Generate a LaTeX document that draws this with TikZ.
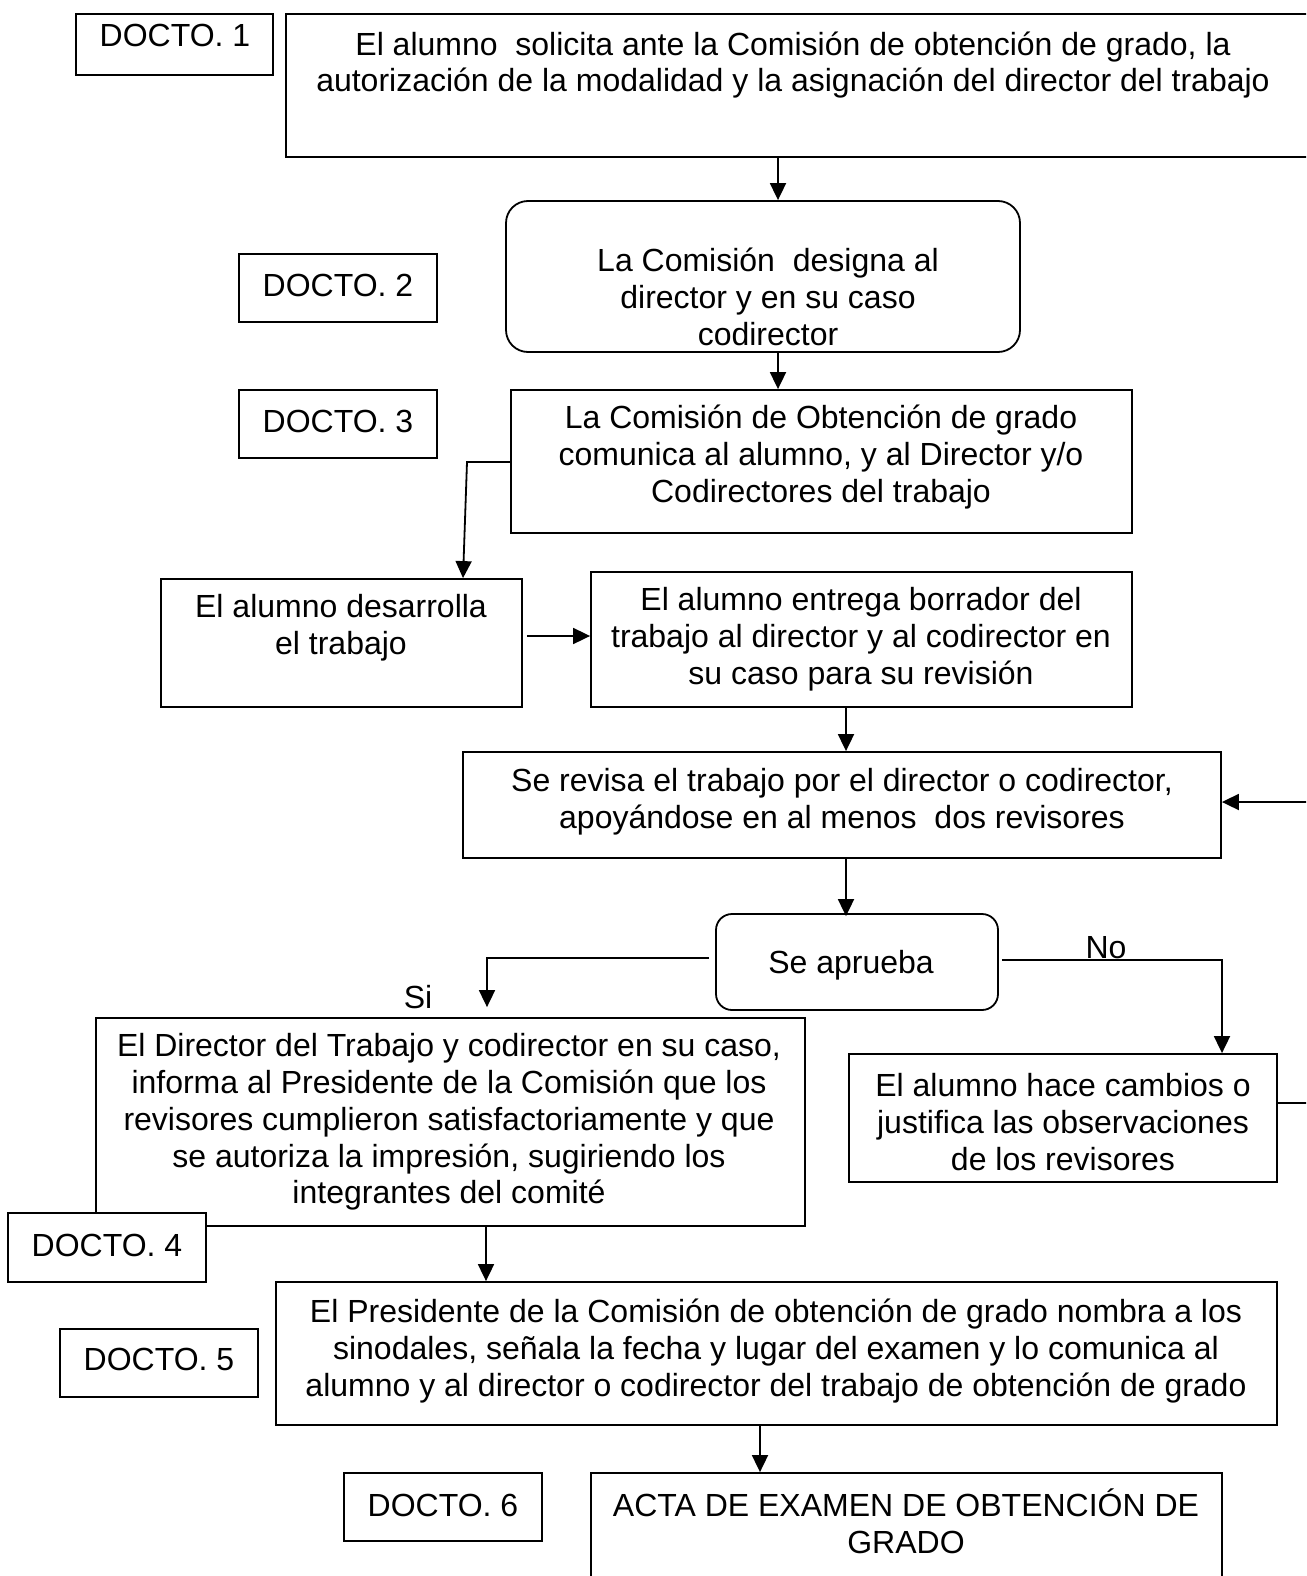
\documentclass[tikz,border=0pt]{standalone}
\usepackage{fontspec}
\setmainfont{Liberation Sans}
\usetikzlibrary{arrows.meta}
\begin{document}
\begin{tikzpicture}[x=1pt,y=-1pt,
  box/.style={draw,line width=1.8pt,rectangle,inner sep=0pt,fill=white},
  rbox/.style={box,rounded corners=22pt},
  txt/.style={inner sep=0pt,align=center,yshift=-2pt,font=\fontsize{32}{36.8}\selectfont},
  arr/.style={line width=1.8pt,-{Triangle[length=17pt,width=16pt]}},
  ln/.style={line width=1.8pt}]
\useasboundingbox (0,0) rectangle (1306,1576);
\clip (0,0) rectangle (1306,1576);
% boxes
\node[box,minimum width=197pt,minimum height=61pt] (d1) at (174.5,44.5) {};
\node[txt] (d1t) at (175,33) {DOCTO. 1};
\node[box,minimum width=1044pt,minimum height=143pt] (top) at (808,85.5) {};
\node[txt] (topt) at (793,63) {El alumno \ solicita ante la Comisión de obtención de grado, la\\autorización de la modalidad y la asignación del director del trabajo};
\node[box,minimum width=198pt,minimum height=68pt] (d2) at (338,288) {};
\node[txt] (d2t) at (338,283) {DOCTO. 2};
\node[rbox,minimum width=514pt,minimum height=151pt] (designa) at (763,276.5) {};
\node[txt] (designat) at (768,295) {La Comisión \ designa al\\director y en su caso\\codirector};
\node[box,minimum width=198pt,minimum height=68pt] (d3) at (338,424) {};
\node[txt] (d3t) at (338,419) {DOCTO. 3};
\node[box,minimum width=621pt,minimum height=143pt] (comunica) at (821.5,461.5) {};
\node[txt] (comunicat) at (821,455) {La Comisión de Obtención de grado\\comunica al alumno, y al Director y/o\\Codirectores del trabajo};
\node[box,minimum width=361pt,minimum height=128pt] (desarrolla) at (341.5,643) {};
\node[txt] (desarrollat) at (341,626) {El alumno desarrolla\\el trabajo};
\node[box,minimum width=541pt,minimum height=135pt] (entrega) at (861.5,639.5) {};
\node[txt] (entregat) at (861,637) {El alumno entrega borrador del\\trabajo al director y al codirector en\\su caso para su revisión};
\node[box,minimum width=758pt,minimum height=106pt] (revisa) at (842,805) {};
\node[txt] (revisat) at (842,800) {Se revisa el trabajo por el director o codirector,\\apoyándose en al menos \ dos revisores};
\node[rbox,rounded corners=16pt,minimum width=282pt,minimum height=96pt] (aprueba) at (857,962) {};
\node[txt] (apruebat) at (851,963) {Se aprueba};
\node[box,minimum width=428pt,minimum height=128pt] (cambios) at (1063,1118) {};
\node[txt] (cambiost) at (1063,1120) {El alumno hace cambios o\\justifica las observaciones\\de los revisores};
\node[box,minimum width=709pt,minimum height=208pt] (director) at (450.5,1122) {};
\node[txt] (directort) at (449,1120) {El Director del Trabajo y codirector en su caso,\\informa al Presidente de la Comisión que los\\revisores cumplieron satisfactoriamente y que\\se autoriza la impresión, sugiriendo los\\integrantes del comité};
\node[box,minimum width=198pt,minimum height=69pt] (d4) at (107,1247.5) {};
\node[txt] (d4t) at (107,1243) {DOCTO. 4};
\node[box,minimum width=1001pt,minimum height=143pt] (presidente) at (776.5,1353.5) {};
\node[txt] (presidentet) at (776,1349) {El Presidente de la Comisión de obtención de grado nombra a los\\sinodales, señala la fecha y lugar del examen y lo comunica al\\alumno y al director o codirector del trabajo de obtención de grado};
\node[box,minimum width=198pt,minimum height=68pt] (d5) at (159,1363) {};
\node[txt] (d5t) at (159,1357) {DOCTO. 5};
\node[box,minimum width=631pt,minimum height=127pt] (acta) at (906.5,1536.5) {};
\node[txt] (actat) at (906,1519) {ACTA DE EXAMEN DE OBTENCIÓN DE\\GRADO};
\node[box,minimum width=198pt,minimum height=68pt] (d6) at (443,1507) {};
\node[txt] (d6t) at (443,1503) {DOCTO. 6};
% labels
\node[txt] (si) at (418,995) {Si};
\node[txt] (no) at (1106,946) {No};
% connectors
\draw[arr] (top.south -| 778,0) -- (designa.north -| 778,0);
\draw[arr] (designa.south -| 778,0) -- (comunica.north -| 778,0);
\draw[arr] (comunica.west |- 0,462) -- (467,462) -- (desarrolla.north -| 463,0);
\draw[arr,shorten <=4pt] (desarrolla.east |- 0,636) -- (entrega.west |- 0,636);
\draw[arr] (entrega.south -| 846,0) -- (revisa.north -| 846,0);
\draw[arr] (revisa.south -| 846,0) -- ([yshift=-3pt]aprueba.north -| 846,0);
\draw[arr,shorten >=10pt,shorten <=6pt] (aprueba.west |- 0,958) -- (487,958) -- (director.north -| 487,0);
\draw[arr,shorten <=3pt] (aprueba.east |- 0,960) -- (1222,960) -- (cambios.north -| 1222,0);
\draw[arr] (cambios.east |- 0,1103) -- (1330,1103) -- (1330,802) -- (revisa.east |- 0,802);
\draw[arr] (director.south -| 486,0) -- (presidente.north -| 486,0);
\draw[arr] (presidente.south -| 760,0) -- (acta.north -| 760,0);
\end{tikzpicture}
\end{document}
